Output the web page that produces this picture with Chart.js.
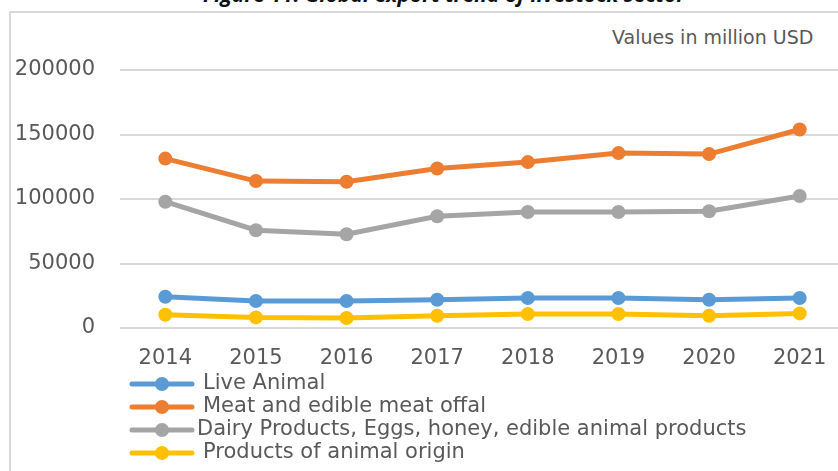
<!DOCTYPE html>
<html>
<head>
<meta charset="utf-8">
<script src="https://cdn.jsdelivr.net/npm/chart.js@4/dist/chart.umd.min.js"></script>
<style>
  html, body { margin: 0; padding: 0; background: #fff; overflow: hidden; }
  #wrap { position: relative; width: 838px; height: 471px; overflow: hidden; background: #fff; }
  #frame { position: absolute; left: 9px; top: 11px; width: 900px; height: 500px;
           border-left: 2px solid #d9d9d9; border-top: 2px solid #d9d9d9; }
  #title { position: absolute; left: 203px; top: -16px; font: italic bold 21px "Open Sans", sans-serif;
           color: #111; white-space: nowrap; line-height: 20px; }
  #unit { position: absolute; left: 612px; top: 26px; font: 19px "DejaVu Sans", sans-serif; color: #595959; white-space: nowrap; }
  #chartBox { position: absolute; left: 0; top: 0; width: 860px; height: 471px; }
</style>
</head>
<body>
<div id="wrap">
  <div id="frame"></div>
  <div id="title">Figure 11: Global export trend of livestock sector</div>
  <div id="unit">Values in million USD</div>
  <div id="chartBox"><canvas id="exportChart" width="860" height="471"></canvas></div>
</div>
<script>
const years = ['2014', '2015', '2016', '2017', '2018', '2019', '2020', '2021'];
const liveAnimal = [24200, 20900, 20900, 21900, 23200, 23200, 21900, 23200];
const meatOffal = [131300, 113900, 113400, 123700, 128600, 135600, 134800, 153900];
const dairyEtc = [97900, 75800, 72700, 86600, 89900, 89900, 90500, 102300];
const animalOrigin = [10300, 8200, 7700, 9500, 10800, 10800, 9500, 11300];
const seriesNames = ['Live Animal', 'Meat and edible meat offal', 'Dairy Products, Eggs, honey, edible animal products', 'Products of animal origin'];
const seriesColors = ['#5B9BD5', '#ED7D31', '#A5A5A5', '#FFC000'];
const yTicks = [0, 50000, 100000, 150000, 200000];

const textGray = '#595959';
const allSeries = [liveAnimal, meatOffal, dairyEtc, animalOrigin];

const datasets = allSeries.map((vals, i) => ({
  label: seriesNames[i],
  data: vals,
  borderColor: seriesColors[i],
  backgroundColor: seriesColors[i],
  borderWidth: 5,
  pointRadius: 7,
  pointHoverRadius: 7,
  pointBorderWidth: 0,
  tension: 0,
  fill: false
}));

// legend drawn under the axis: line + dot, then the label
const lineLegend = {
  id: 'lineLegend',
  afterDraw(chart) {
    const ctx = chart.ctx;
    const rows = [384, 407, 430, 453];
    const textX = [203, 203, 197, 203];
    ctx.save();
    chart.data.datasets.forEach((ds, i) => {
      const y = rows[i];
      ctx.strokeStyle = ds.borderColor;
      ctx.lineWidth = 5;
      ctx.lineCap = 'round';
      ctx.beginPath();
      ctx.moveTo(132, y);
      ctx.lineTo(192, y);
      ctx.stroke();
      ctx.fillStyle = ds.borderColor;
      ctx.beginPath();
      ctx.arc(162, y, 7, 0, Math.PI * 2);
      ctx.fill();
      ctx.fillStyle = textGray;
      ctx.font = '21px "DejaVu Sans", sans-serif';
      ctx.textBaseline = 'middle';
      ctx.fillText(ds.label, textX[i], y);
    });
    ctx.restore();
  }
};

new Chart(document.getElementById('exportChart'), {
  type: 'line',
  data: { labels: years, datasets },
  options: {
    responsive: false,
    animation: false,
    layout: { padding: { top: 70, right: 15, left: 0, bottom: 0 } },
    plugins: { legend: { display: false }, tooltip: { enabled: false } },
    scales: {
      x: {
        offset: true,
        grid: { display: false, drawTicks: false },
        border: { display: false },
        ticks: { color: textGray, font: { family: 'DejaVu Sans', size: 21 }, padding: 18, maxRotation: 0 },
        afterFit(scale) { scale.height = 143; }
      },
      y: {
        min: 0,
        max: 200000,
        afterBuildTicks(scale) { scale.ticks = yTicks.map(v => ({ value: v })); },
        grid: { color: '#d9d9d9', lineWidth: 2, drawTicks: false },
        border: { display: false },
        ticks: { color: textGray, font: { family: 'DejaVu Sans', size: 21 }, padding: 25,
                 callback: v => String(v) },
        afterFit(scale) { scale.width = 120; }
      }
    }
  },
  plugins: [lineLegend]
});
</script>
</body>
</html>
